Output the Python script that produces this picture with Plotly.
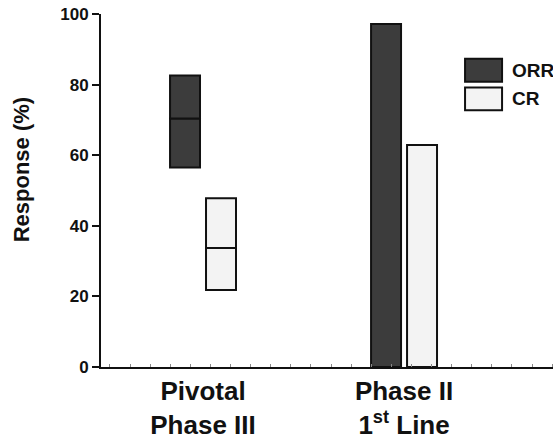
import plotly.graph_objects as go

# ---- data ----
groups = ["Pivotal<br>Phase III", "Phase II<br>1<sup>st</sup> Line"]
group_pos = [1, 2]
orr_low = [56.5, 0]
orr_mid = [70.4, None]
orr_high = [82.6, 97.2]
cr_low = [21.8, 0]
cr_mid = [33.7, None]
cr_high = [47.8, 62.9]
y_ticks = [0, 20, 40, 60, 80, 100]
legend_labels = ["ORR", "CR"]

ORR_FILL = "#3c3c3c"
CR_FILL = "#f3f3f3"
EDGE = "#111111"
FONT = "Liberation Sans, Arial, Helvetica, sans-serif"


def split(low, mid, high):
    lo_b, lo_h, hi_b, hi_h = [], [], [], []
    for l, m, h in zip(low, mid, high):
        if m is None:
            lo_b.append(l); lo_h.append(h - l); hi_b.append(None); hi_h.append(None)
        else:
            lo_b.append(l); lo_h.append(m - l); hi_b.append(m); hi_h.append(h - m)
    return lo_b, lo_h, hi_b, hi_h


fig = go.Figure()
for name, low, mid, high, fill in [("ORR", orr_low, orr_mid, orr_high, ORR_FILL),
                                   ("CR", cr_low, cr_mid, cr_high, CR_FILL)]:
    lo_b, lo_h, hi_b, hi_h = split(low, mid, high)
    fig.add_trace(go.Bar(x=group_pos, y=lo_h, base=lo_b, offsetgroup=name, name=name,
                         marker=dict(color=fill, line=dict(color=EDGE, width=2)),
                         showlegend=False))
    fig.add_trace(go.Bar(x=group_pos, y=hi_h, base=hi_b, offsetgroup=name, name=name,
                         marker=dict(color=fill, line=dict(color=EDGE, width=2)),
                         showlegend=False))

# custom legend (large swatches)
leg_x0, leg_x1, leg_tx = 2.3035, 2.4876, 2.527
leg_rows = [(87.3, 80.8, ORR_FILL), (79.2, 72.7, CR_FILL)]
for (y1, y0, fill), lab in zip(leg_rows, legend_labels):
    fig.add_shape(type="rect", xref="x", yref="y", x0=leg_x0, x1=leg_x1, y0=y0, y1=y1,
                  fillcolor=fill, line=dict(color=EDGE, width=2))
    fig.add_annotation(xref="x", yref="y", x=leg_tx, y=(y0 + y1) / 2, text=lab,
                       showarrow=False, xanchor="left", yanchor="middle",
                       font=dict(family=FONT, size=19, color="#111", weight="bold"))

fig.add_annotation(xref="paper", yref="paper", x=-0.177, y=0.56, text="Response (%)",
                   textangle=-90, showarrow=False, xanchor="center", yanchor="middle",
                   font=dict(family=FONT, size=22, color="#111", weight="bold"))

fig.update_layout(
    width=553, height=440,
    margin=dict(l=101, r=0, t=14, b=71),
    paper_bgcolor="white", plot_bgcolor="white",
    barmode="group", bargap=0.642, bargroupgap=0.167,
    showlegend=False,
)
fig.update_xaxes(
    range=[0.4925, 2.741], tickvals=group_pos, ticktext=groups,
    showline=True, linecolor=EDGE, linewidth=2, showgrid=False, zeroline=False,
    ticks="", ticklen=0,
    tickfont=dict(family=FONT, size=26, color="#111", weight="bold"),
    minor=dict(ticks="inside", ticklen=3, tickcolor="#888", tick0=0.637, dtick=0.1,
               showgrid=False),
)
fig.update_yaxes(
    range=[0, 100], tickvals=y_ticks,
    showline=True, linecolor=EDGE, linewidth=2, showgrid=False, zeroline=False,
    ticks="outside", ticklen=7, tickwidth=2, tickcolor=EDGE,
    tickfont=dict(family=FONT, size=17, color="#111", weight="bold"),
)

fig.write_html("out.html", config={"displayModeBar": False},
               post_script="document.body.style.margin='0';document.body.style.overflow='hidden';")
